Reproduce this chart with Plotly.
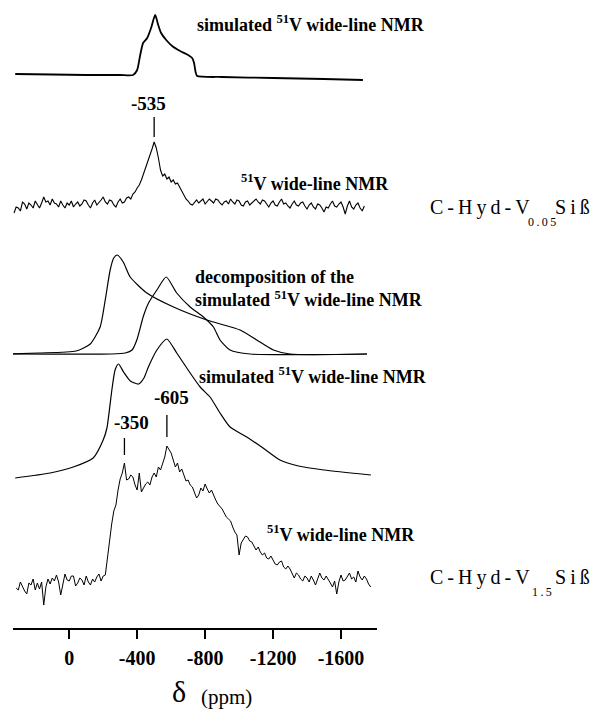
import plotly.graph_objects as go

# ---------------- data ----------------
# experimental spectra are sampled on a uniform ppm grid (start, step)
EXP_PPM_START = 325.0
EXP_PPM_STEP = -12.5

# C-Hyd-V0.05Siß experimental 51V wide-line NMR (arb. units), 8 points per 100 ppm
EXP_V005 = [-8, -2, -3, -6, 3, 1, -4, 2,
            0, -3, 4, 1, -3, 2, 8, 3,
            4, 0, 6, 2, 1, -2, 4, 0,
            -3, 2, 0, 4, -2, 1, 3, -1,
            1, 5, 4, 0, -3, 2, 5, 0,
            2, 5, 8, 3, 1, 5, 4, 0,
            -2, 3, 6, 2, 3, 7, 8, 6,
            11, 13, 17, 20, 25, 31, 36, 42,
            48, 56, 63, 57, 47, 35, 29, 31,
            26, 28, 23, 25, 21, 22, 18, 14,
            10, 6, 4, 1, 0, 3, 5, 2,
            4, 6, 1, 3, 6, 4, 2, 6,
            5, 2, 0, 3, 4, 1, 6, 3,
            1, 5, 4, 0, -1, 3, 4, 0,
            2, 5, 6, 3, 1, 5, 4, 1,
            -2, 2, 4, 0, -1, 3, 6, 1,
            2, -1, -3, 1, 4, 0, -1, 2,
            3, -1, -4, 0, 2, -2, -4, 1,
            0, -3, -7, -2, -3, 1, 4, -1,
            -2, 1, 3, -2, -9, -1, 4, -2,
            -4, 0, 2, -3, -6, -1, None, None,
            None]

# C-Hyd-V1.5Siß experimental 51V wide-line NMR (arb. units)
EXP_V15 = [None, -3, -5, 3, -2, -6, -9, 2,
           0, 6, -5, 2, -4, 3, -20, -2,
           6, 1, 7, 4, 10, 3, -10, 2,
           11, 5, 4, 9, 9, -1, 2, 7,
           5, 0, 9, 3, 0, 6, 3, 8,
           11, 4, 9, 10, 29, 45, 61, 74,
           80, 95, 106, 112, 122, 105, 106, 110,
           108, 100, 95, 112, 93, 97, 101, 103,
           100, 108, 112, 108, 118, 115, 122, 128,
           139, 135, 132, 125, 118, 122, 113, 116,
           109, 104, 105, 100, 98, 92, 87, 90,
           97, 94, 101, 96, 92, 95, 89, 85,
           81, 79, 76, 72, 68, 66, 64, 58,
           53, 50, 30, 42, 45, 49, 48, 44,
           43, 39, 35, 38, 33, 30, 32, 27,
           26, 29, 25, 21, 20, 23, 24, 18,
           16, 19, 16, 11, 7, 12, 10, 6,
           4, 9, 7, 3, 9, 5, 0, 6,
           12, 7, 5, 9, 6, 2, -2, 4,
           -9, 3, 10, 4, 5, 9, 12, 6,
           8, 3, 14, 8, 5, 9, 6, 1,
           -2]

# simulated spectrum for C-Hyd-V0.05Siß
SIM1_PPM = [318, 100, -100, -300, -376, -400, -418, -435, -459, -482, -506,
            -524, -541, -571, -606, -653, -700, -724, -735, -744, -753, -900,
            -1200, -1500, -1729]
SIM1_INT = [3, 2.5, 2, 2, 2, 7, 22, 34, 39, 49, 62,
            52, 44, 37, 31, 26, 22, 19, 14, 5, 1, 0,
            -1, -2, -3]

# decomposition components of the simulated spectrum (C-Hyd-V1.5Siß)
DECA_PPM = [343, 182, -40, -124, -182, -212, -241, -262, -283, -318, -359,
            -457, -614, -810, -1006, -1104, -1202, -1300, -1753]
DECA_INT = [0, 1, 3, 10, 27, 54, 84, 96, 99, 92, 77,
            61, 47, 34, 24, 14, 4, 0, 0]
DECB_PPM = [343, -250, -330, -370, -398, -437, -467, -516, -571, -633, -712,
            -790, -849, -888, -947, -1065, -1753]
DECB_INT = [0, 0, 1, 4, 14, 38, 51, 64, 77, 61, 47,
            37, 27, 14, 4, 0, 0]

# simulated spectrum for C-Hyd-V1.5Siß
SIM2_PPM = [318, 112, -24, -141, -200, -222, -251, -270, -290, -320, -360,
            -408, -440, -466, -516, -575, -633, -712, -771, -829, -888, -947,
            -1045, -1141, -1241, -1350, -1500, -1776]
SIM2_INT = [2, 7, 13, 22, 40, 52, 90, 110, 116, 108, 99,
            96, 102, 113, 130, 141, 127, 107, 93, 83, 67, 53,
            43, 32, 20, 14, 10, 5]

PEAK_LABELS = ["-535", "-350", "-605"]
PEAK_PPM = [-500, -325, -575]
TICKS = [0, -400, -800, -1200, -1600]
TICK_TEXT = ["0", "-400", "-800", "-1200", "-1600"]

# ---------------- layout constants ----------------
W, H = 592, 715
ML, MR, MT, MB = 13, 215, 0, 87
PLOT_H = H - MT - MB
X_RANGE = [331, -1812]

# vertical offsets (stacking) for each spectrum
OFF_SIM1 = 551
OFF_EXP1 = 423
OFF_DEC = 274
OFF_SIM2 = 148
OFF_EXP2 = 43

SERIF = "Liberation Serif"

fig = go.Figure()


def grid_for(values):
    return [EXP_PPM_START + i * EXP_PPM_STEP for i in range(len(values))]


def add_line(x, y, off, width, shape="linear"):
    line = dict(color="black", width=width, shape=shape)
    if shape == "spline":
        line["smoothing"] = 0.6
    fig.add_trace(go.Scatter(
        x=x, y=[None if v is None else v + off for v in y],
        mode="lines", line=line,
        hoverinfo="skip", showlegend=False, connectgaps=False))


add_line(SIM1_PPM, SIM1_INT, OFF_SIM1, 1.8, "spline")
add_line(grid_for(EXP_V005), EXP_V005, OFF_EXP1, 1.1)
add_line(DECA_PPM, DECA_INT, OFF_DEC, 1.2, "spline")
add_line(DECB_PPM, DECB_INT, OFF_DEC, 1.2, "spline")
add_line(SIM2_PPM, SIM2_INT, OFF_SIM2, 1.2, "spline")
add_line(grid_for(EXP_V15), EXP_V15, OFF_EXP2, 1.0)

# peak markers: (data, offset, line gap start, line gap end, text gap, text dx ppm)
marker_specs = [
    (EXP_V005, OFF_EXP1, 5, 25, 39, 35),
    (EXP_V15, OFF_EXP2, 8, 25, 41, -43),
    (EXP_V15, OFF_EXP2, 9, 31, 49, -29),
]
for lab, ppm, (data, off, g0, g1, gt, dx) in zip(PEAK_LABELS, PEAK_PPM, marker_specs):
    i = round((EXP_PPM_START - ppm) / -EXP_PPM_STEP)
    top = data[i] + off
    fig.add_shape(type="line", xref="x", yref="y", x0=ppm, x1=ppm,
                  y0=top + g0, y1=top + g1, line=dict(color="black", width=1.3))
    fig.add_annotation(x=ppm + dx, y=top + gt, xref="x", yref="y", text=f"<b>{lab}</b>",
                       showarrow=False,
                       font=dict(family=SERIF, size=19, color="black"),
                       xanchor="center", yanchor="middle")

lab_font = dict(family=SERIF, size=18, color="black")


def label(px, py, text, font=lab_font, xanchor="left"):
    fig.add_annotation(x=(px - ML) / (W - ML - MR), y=(H - MB - py) / PLOT_H,
                       xref="paper", yref="paper", text=text, showarrow=False,
                       font=font, xanchor=xanchor, yanchor="middle", align="left")


label(195, 24, "<b>simulated <sup>51</sup>V wide-line NMR</b>")
label(239, 182, "<b><sup>51</sup>V wide-line NMR</b>")
label(193, 288, "<b>decomposition of the<br>simulated <sup>51</sup>V wide-line NMR</b>")
label(197, 375, "<b>simulated <sup>51</sup>V wide-line NMR</b>")
label(265, 533, "<b><sup>51</sup>V wide-line NMR</b>")

name_font = dict(family=SERIF, size=20, color="black")
sub_font = dict(family=SERIF, size=12, color="black")
T = "\u2009"
for main_y, sub_text in ((207, f"0{T}.{T}0{T}5"), (577, f"1{T}.{T}5")):
    label(428, main_y, T.join("C-Hyd-V"), name_font, "left")
    label(542, main_y + 15, sub_text, sub_font, "center")
    label(592, main_y, T.join("Siß"), name_font, "right")

label(179, 691, "δ", dict(family=SERIF, size=30, color="black"), "center")
label(226, 697, "(ppm)", dict(family=SERIF, size=21, color="black"), "center")

fig.update_layout(
    width=W, height=H, margin=dict(l=ML, r=MR, t=MT, b=MB),
    paper_bgcolor="white", plot_bgcolor="white", showlegend=False,
    xaxis=dict(range=X_RANGE, showgrid=False, zeroline=False, showline=True,
               linecolor="black", linewidth=2, ticks="outside", ticklen=9,
               tickwidth=1.5, tickcolor="black", tickvals=TICKS,
               ticktext=[f"<b>{t}</b>" for t in TICK_TEXT],
               tickfont=dict(family=SERIF, size=20, color="black"),
               ticklabelstandoff=2, fixedrange=True),
    yaxis=dict(range=[0, PLOT_H], visible=False, fixedrange=True),
)

fig.write_html("out.html")
